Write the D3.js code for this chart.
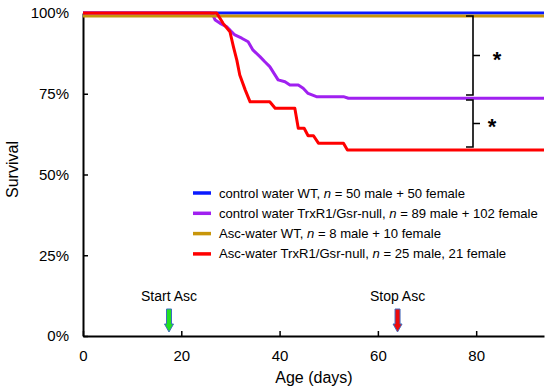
<!DOCTYPE html>
<html>
<head>
<meta charset="utf-8">
<script src="https://cdn.jsdelivr.net/npm/d3@7"></script>
<style>
  body { margin: 0; background: #fff; }
  text { font-family: "Liberation Sans", Arial, sans-serif; }
</style>
</head>
<body>
<svg width="550" height="390"></svg>
<script>
// survival curves, [age in days, % surviving]
var blueData = [[0, 100], [93.8, 100]];
var goldData = [[0, 99.1], [93.8, 99.1]];
var purpleData = [[0, 100], [26, 100], [26.4, 99.4], [26.9, 97.8], [27.9, 96.8], [29.2, 95.8],
  [29.9, 94.7], [30.9, 93.2], [32.3, 92.2], [33.6, 91.1], [34.6, 88.5], [36.0, 86.5],
  [37.0, 84.9], [38.0, 83.4], [39.7, 79.3], [41.1, 78.7], [42.1, 77.7], [43.8, 77.7],
  [44.8, 76.7], [45.8, 75.1], [47.5, 74.1], [53.0, 74.1], [54.0, 73.6], [93.8, 73.6]];
var redData = [[0, 100], [27.2, 100], [28.5, 96.8], [29.9, 94.2], [30.6, 89.6], [31.3, 85.4],
  [31.9, 80.8], [33.0, 76.2], [34.0, 72.5], [38.0, 72.5], [39.1, 70.5], [43.1, 70.5],
  [43.8, 64.3], [45.0, 64.3], [45.8, 62.0], [46.9, 62.0], [47.9, 59.7], [53.0, 59.7],
  [53.8, 57.6], [93.8, 57.6]];

var legendNames = ["control water WT, ", "control water TrxR1/Gsr-null, ",
  "Asc-water WT, ", "Asc-water TrxR1/Gsr-null, "];
var legendCounts = [" = 50 male + 50 female", " = 89 male + 102 female",
  " = 8 male + 10 female", " = 25 male, 21 female"];
var colors = ["#0a1aff", "#a020f0", "#c8960a", "#ff0000"];

var xTicks = [0, 20, 40, 60, 80];
var yTicks = [0, 25, 50, 75, 100];
var ascStart = 17.5, ascStop = 64;

var svg = d3.select("svg"),
    margin = {top: 13, right: 6, bottom: 54, left: 83},
    width = +svg.attr("width") - margin.left - margin.right,
    height = +svg.attr("height") - margin.top - margin.bottom;

var x = d3.scaleLinear().domain([0, 93.8]).range([0, width]),
    y = d3.scaleLinear().domain([0, 100]).range([height, 0]);

var g = svg.append("g")
    .attr("transform", "translate(" + margin.left + "," + margin.top + ")");

// axes with ticks pointing inward
g.append("g")
    .attr("transform", "translate(0," + height + ")")
    .call(d3.axisBottom(x).tickValues(xTicks).tickSizeInner(-5).tickSizeOuter(0).tickPadding(14))
    .call(function(a) {
      a.select(".domain").attr("stroke-width", 2);
      a.selectAll(".tick line").attr("stroke-width", 1.5);
      a.selectAll("text").attr("font-size", 15).attr("fill", "#000");
    });

g.append("g")
    .call(d3.axisLeft(y).tickValues(yTicks).tickSizeInner(-5).tickSizeOuter(0).tickPadding(14)
      .tickFormat(function(d) { return d + "%"; }))
    .call(function(a) {
      a.select(".domain").attr("stroke-width", 2);
      a.selectAll(".tick line").attr("stroke-width", 1.5);
      a.selectAll("text").attr("font-size", 15).attr("fill", "#000");
    });

svg.append("text")
    .attr("x", margin.left + x(47))
    .attr("y", 383)
    .attr("text-anchor", "middle")
    .attr("font-size", 16)
    .text("Age (days)");

svg.append("text")
    .attr("transform", "translate(18," + (margin.top + y(50) - 5) + ") rotate(-90)")
    .attr("text-anchor", "middle")
    .attr("font-size", 16)
    .text("Survival");

// curves, red drawn last so it sits on top
var line = d3.line()
    .x(function(d) { return x(d[0]); })
    .y(function(d) { return y(d[1]); });

[blueData, purpleData, goldData, redData].forEach(function(data, i) {
  g.append("path")
      .datum(data)
      .attr("fill", "none")
      .attr("stroke", colors[i])
      .attr("stroke-width", 3)
      .attr("stroke-linejoin", "round")
      .attr("d", line);
});

// legend
var legend = g.append("g").attr("transform", "translate(110,180)");
legendNames.forEach(function(name, i) {
  var row = legend.append("g").attr("transform", "translate(0," + (i * 20.3) + ")");
  row.append("line")
      .attr("x1", 0).attr("x2", 18)
      .attr("stroke", colors[i]).attr("stroke-width", 3.5);
  var t = row.append("text")
      .attr("x", 26).attr("dy", "0.35em")
      .attr("font-size", 13.1);
  t.append("tspan").text(name);
  t.append("tspan").attr("font-style", "italic").text("n");
  t.append("tspan").text(legendCounts[i]);
});

// significance brackets
function bracket(top, bottom) {
  var bx = 390, m = (top + bottom) / 2;
  g.append("path")
      .attr("fill", "none")
      .attr("stroke", "#000")
      .attr("stroke-width", 1.6)
      .attr("d", "M" + (bx - 7) + "," + top + " H" + bx + " V" + bottom + " H" + (bx - 7) +
        " M" + bx + "," + m + " H" + (bx + 7));
}
bracket(3, 82);
bracket(87, 134);
g.append("text").attr("x", 414).attr("y", 44 + 10).attr("text-anchor", "middle")
    .attr("font-size", 22).attr("font-weight", "bold").text("*");
g.append("text").attr("x", 409).attr("y", 111 + 10).attr("text-anchor", "middle")
    .attr("font-size", 22).attr("font-weight", "bold").text("*");

// treatment arrows
function arrow(day, fill, label) {
  var ax = x(day), y0 = 296, y1 = 319;
  g.append("path")
      .attr("fill", fill)
      .attr("stroke", "#3d6cc0")
      .attr("stroke-width", 1)
      .attr("d", "M" + (ax - 2.5) + "," + y0 + " H" + (ax + 2.5) + " V" + (y1 - 8) +
        " H" + (ax + 4.5) + " L" + ax + "," + y1 + " L" + (ax - 4.5) + "," + (y1 - 8) +
        " H" + (ax - 2.5) + " Z");
  g.append("text")
      .attr("x", ax)
      .attr("y", 288)
      .attr("text-anchor", "middle")
      .attr("font-size", 14)
      .text(label);
}
arrow(ascStart, "#22e022", "Start Asc");
arrow(ascStop, "#ee0a0a", "Stop Asc");
</script>
</body>
</html>
